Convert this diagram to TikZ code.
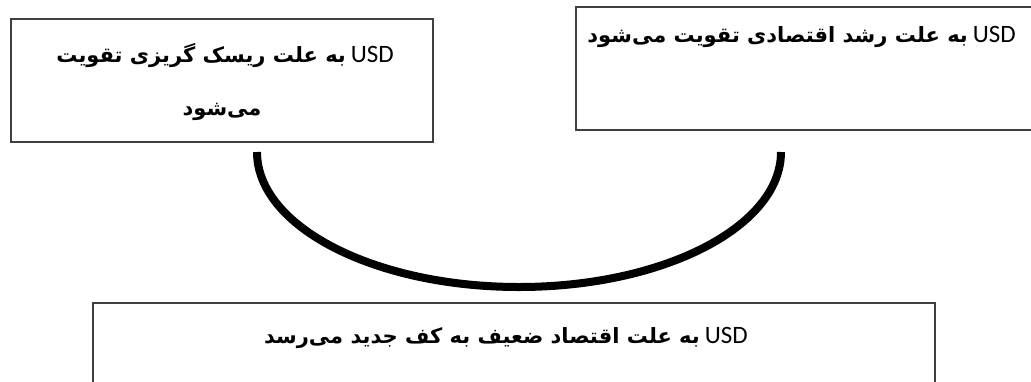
\documentclass[tikz,border=0pt]{standalone}
\usepackage{fontspec}
\TeXXeTstate=1
\newfontfamily\arabicfont[Script=Arabic]{DejaVu Sans}
\newfontfamily\latfont{Carlito}
\tikzset{
  boxframe/.style={draw=black!75, line width=1.3pt},
  fatext/.style={inner sep=0pt, font=\fontsize{21}{24}\selectfont},
  arcline/.style={line width=8pt, black}
}
\newcommand{\fa}[1]{\mbox{\arabicfont\bfseries\beginR #1\endR}}
\newcommand{\us}{{\latfont\fontsize{25}{28}\selectfont USD}}
\begin{document}
\begin{tikzpicture}[x=1pt,y=-1pt]
\useasboundingbox (0,0) rectangle (1031,381);
\clip (0,0) rectangle (1031,381);
% boxes
\draw[boxframe] (11,19) rectangle (433,142);
\draw[boxframe] (576,7) rectangle (1045,130);
\draw[boxframe] (93,303) rectangle (935,400);
% texts
\node[fatext, anchor=base east] (l1) at (394,62) {\fa{به علت ریسک گریزی تقویت}\hspace{5pt}\us};
\node[fatext, anchor=base] (l2) at (222,115) {\fa{می‌شود}};
\node[fatext, anchor=base east] (r1) at (1016,42) {\fa{به علت رشد اقتصادی تقویت می‌شود}\hspace{5pt}\us};
\node[fatext, anchor=base east] (b1) at (748,343) {\fa{به علت اقتصاد ضعیف به کف جدید می‌رسد}\hspace{5pt}\us};
% curve
\coordinate (cs) at (257,152);
\coordinate (ce) at (781,152);
\draw[arcline] (cs) arc[start angle=180, end angle=0, x radius=262, y radius=135];
\end{tikzpicture}
\end{document}
